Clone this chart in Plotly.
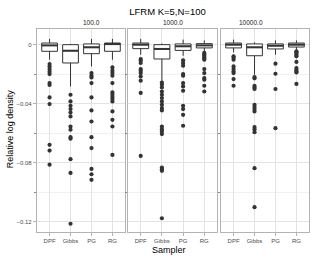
import plotly.graph_objects as go

samplers = ["DPF", "Gibbs", "PG", "RG"]
panels = ["100.0", "1000.0", "10000.0"]

# box stats per panel: [DPF, Gibbs, PG, RG]
q1 = {
    "100.0": [-0.0045, -0.0124, -0.0061, -0.0045],
    "1000.0": [-0.0027, -0.0097, -0.0039, -0.0022],
    "10000.0": [-0.0022, -0.0075, -0.0029, -0.0016],
}
med = {
    "100.0": [-0.0005, -0.0041, -0.0018, 0.0004],
    "1000.0": [0.0000, -0.0029, -0.0011, -0.0005],
    "10000.0": [0.0000, -0.0018, -0.0007, 0.0000],
}
q3 = {
    "100.0": [0.0011, 0.0000, 0.0005, 0.0011],
    "1000.0": [0.0011, 0.0000, 0.0005, 0.0007],
    "10000.0": [0.0011, 0.0005, 0.0005, 0.0011],
}
lo = {
    "100.0": [-0.0102, -0.0283, -0.0147, -0.0102],
    "1000.0": [-0.0068, -0.0249, -0.0075, -0.0045],
    "10000.0": [-0.0052, -0.0203, -0.0068, -0.0034],
}
hi = {
    "100.0": [0.0039, 0.0005, 0.0039, 0.0039],
    "1000.0": [0.0039, 0.0008, 0.0034, 0.0029],
    "10000.0": [0.0034, 0.0016, 0.0029, 0.0029],
}

outliers = {
    "100.0": {
        "DPF": [-0.0131, -0.0147, -0.0165, -0.0183, -0.0199, -0.0260, -0.0273, -0.0357, -0.0402, -0.0678, -0.0717, -0.0812],
        "Gibbs": [-0.0339, -0.0384, -0.0414, -0.0436, -0.0459, -0.0486, -0.0554, -0.0576, -0.0626, -0.0637, -0.0775, -0.0868, -0.1212],
        "PG": [-0.0192, -0.0210, -0.0222, -0.0260, -0.0357, -0.0445, -0.0520, -0.0626, -0.0700, -0.0841, -0.0877, -0.0915],
        "RG": [-0.0154, -0.0176, -0.0192, -0.0210, -0.0260, -0.0323, -0.0339, -0.0355, -0.0368, -0.0384, -0.0452, -0.0509, -0.0554, -0.0746],
    },
    "1000.0": {
        "DPF": [-0.0097, -0.0108, -0.0124, -0.0165, -0.0176, -0.0192, -0.0215, -0.0244, -0.0327, -0.0753],
        "Gibbs": [-0.0256, -0.0271, -0.0290, -0.0317, -0.0339, -0.0361, -0.0384, -0.0407, -0.0429, -0.0445, -0.0554, -0.0572, -0.0588, -0.0605, -0.0832, -0.0843, -0.0854, -0.1175],
        "PG": [-0.0106, -0.0124, -0.0142, -0.0199, -0.0210, -0.0260, -0.0283, -0.0312, -0.0414, -0.0436, -0.0475, -0.0549],
        "RG": [-0.0056, -0.0066, -0.0075, -0.0083, -0.0093, -0.0102, -0.0165, -0.0192, -0.0226, -0.0237, -0.0278, -0.0317],
    },
    "10000.0": {
        "DPF": [-0.0079, -0.0090, -0.0102, -0.0147, -0.0165, -0.0181, -0.0192, -0.0233, -0.0278],
        "Gibbs": [-0.0219, -0.0228, -0.0278, -0.0290, -0.0300, -0.0407, -0.0422, -0.0436, -0.0452, -0.0558, -0.0572, -0.0592, -0.0836, -0.1100],
        "PG": [-0.0129, -0.0197, -0.0300, -0.0565],
        "RG": [-0.0045, -0.0052, -0.0061, -0.0070, -0.0079, -0.0117, -0.0158, -0.0170, -0.0181, -0.0188, -0.0266],
    },
}

major_ticks = [0, -0.04, -0.08, -0.12]
major_text = ["0", "\u22120.04", "\u22120.08", "\u22120.12"]
minor_ticks = [-0.02, -0.06, -0.10]

FONT = "Liberation Sans, Arial, sans-serif"
INK = "#333333"
BORDER = "#b3b3b3"
GRID = "#e3e3e3"
GRID_MINOR = "#f1f1f1"
BOX_W = 0.75

W, H = 315, 260
ml, mr, mt, mb = 37, 6, 29, 28
plot_w = W - ml - mr
domains = [(0, 88), (91, 180), (184, 272)]

fig = go.Figure()
xs = list(range(len(samplers)))

for i, p in enumerate(panels):
    sfx = "" if i == 0 else str(i + 1)
    xa, ya = "x" + sfx, "y" + sfx
    fig.add_trace(go.Box(
        x=xs, q1=q1[p], median=med[p], q3=q3[p],
        lowerfence=lo[p], upperfence=hi[p],
        width=BOX_W, whiskerwidth=0,
        fillcolor="white", line=dict(color=INK, width=1),
        boxpoints=False, xaxis=xa, yaxis=ya, showlegend=False,
    ))
    # thicker median lines (ggplot style)
    mx, my = [], []
    for j in xs:
        mx += [j - BOX_W / 2, j + BOX_W / 2, None]
        my += [med[p][j], med[p][j], None]
    fig.add_trace(go.Scatter(
        x=mx, y=my, mode="lines", line=dict(color=INK, width=2),
        xaxis=xa, yaxis=ya, showlegend=False, hoverinfo="skip",
    ))
    ox, oy = [], []
    for j, s in enumerate(samplers):
        ox += [j] * len(outliers[p][s])
        oy += outliers[p][s]
    fig.add_trace(go.Scatter(
        x=ox, y=oy, mode="markers",
        marker=dict(color=INK, size=4.2, line=dict(width=0)),
        xaxis=xa, yaxis=ya, showlegend=False,
    ))

layout = dict(
    width=W, height=H, autosize=False,
    margin=dict(l=ml, r=mr, t=mt, b=mb, pad=0),
    paper_bgcolor="white", plot_bgcolor="white",
    font=dict(family=FONT, color="#4d4d4d", size=6),
    title=dict(text="LFRM K=5,N=100", x=167.5 / W, xanchor="center",
               y=1 - 11.3 / H, yanchor="middle",
               font=dict(size=9.5, color="black", family=FONT)),
    annotations=[],
)

for i, p in enumerate(panels):
    sfx = "" if i == 0 else str(i + 1)
    d0, d1 = domains[i]
    layout["xaxis" + sfx] = dict(
        domain=[d0 / plot_w, d1 / plot_w], anchor="y" + sfx,
        range=[-0.6, len(samplers) - 0.4],
        tickvals=xs, ticktext=samplers,
        showgrid=True, gridcolor=GRID, gridwidth=1,
        showline=True, mirror=True, linecolor=BORDER, linewidth=1.2,
        ticks="outside", ticklen=3, tickcolor=BORDER, tickwidth=1,
        tickfont=dict(size=6, color="#4d4d4d", family=FONT),
        zeroline=False, fixedrange=True,
    )
    ya = dict(
        anchor="x" + sfx, domain=[0, 1],
        range=[-0.1268, 0.0106],
        tickvals=major_ticks, ticktext=major_text,
        showgrid=True, gridcolor=GRID, gridwidth=1,
        minor=dict(tickvals=minor_ticks, showgrid=True, gridcolor=GRID_MINOR,
                   gridwidth=1, ticks="outside", ticklen=1.5,
                   tickcolor="#888888", tickwidth=1),
        showline=True, mirror=True, linecolor=BORDER, linewidth=1.2,
        zeroline=False,
        tickfont=dict(size=6, color="#4d4d4d", family=FONT),
    )
    if i == 0:
        ya.update(ticks="outside", ticklen=3, tickcolor=BORDER, tickwidth=1)
    else:
        ya.update(showticklabels=False, ticks="", matches="y")
    layout["yaxis" + sfx] = ya
    layout["annotations"].append(dict(
        text=p, xref="paper", yref="paper",
        x=((d0 + d1) / 2) / plot_w, y=1, yanchor="bottom", yshift=1,
        showarrow=False, font=dict(size=6.5, color="#1a1a1a", family=FONT),
    ))

layout["annotations"].append(dict(
    text="Sampler", xref="paper", yref="paper",
    x=(168.5 - ml) / plot_w, y=0, yanchor="middle", yshift=-18,
    showarrow=False, font=dict(size=9, color="black", family=FONT),
))
layout["annotations"].append(dict(
    text="Relative log density", xref="paper", yref="paper",
    x=0, xanchor="center", xshift=9.5 - ml, y=(232 - 129) / 202.7,
    yanchor="middle", textangle=-90, showarrow=False,
    font=dict(size=9, color="black", family=FONT),
))

fig.update_layout(**layout)
fig.write_html(
    "out.html",
    config={"displayModeBar": False},
    post_script="document.body.style.margin='0';document.body.style.overflow='hidden';",
)
